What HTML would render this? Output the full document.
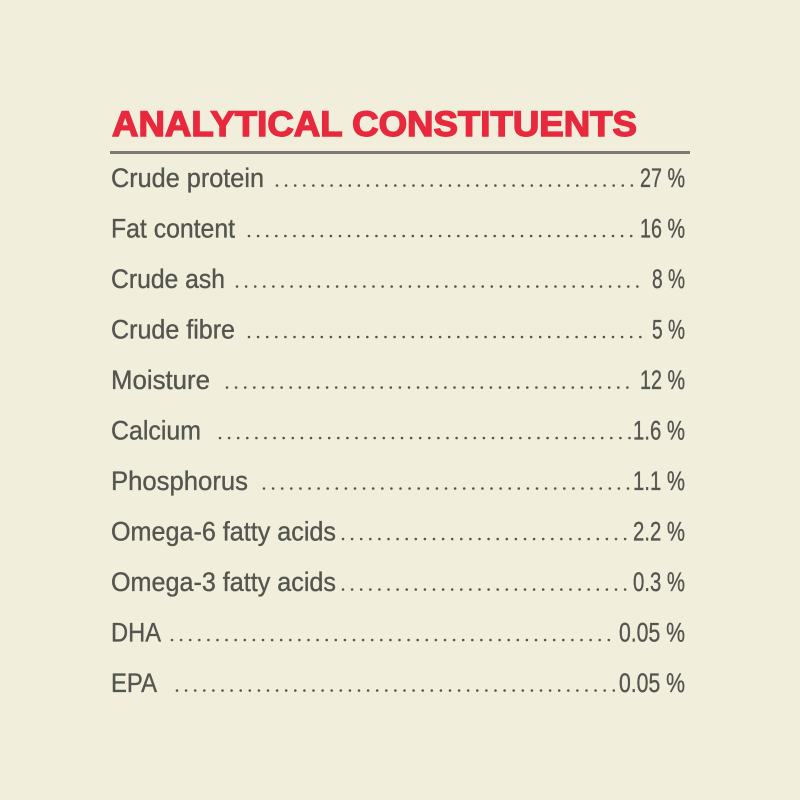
<!DOCTYPE html>
<html><head><meta charset="utf-8"><style>
html,body{margin:0;padding:0;background:#f1efdb;}
svg{display:block}
text{font-family:"Liberation Sans",sans-serif;}
</style></head><body>
<svg width="800" height="800" viewBox="0 0 800 800" xmlns="http://www.w3.org/2000/svg">
<rect width="800" height="800" fill="#f1efdb"/>
<text x="112" y="136" font-size="35" font-weight="bold" fill="#e8283d" stroke="#e8283d" stroke-width="1.4" textLength="525" lengthAdjust="spacingAndGlyphs">ANALYTICAL CONSTITUENTS</text>
<rect x="110" y="151" width="580" height="3" fill="#7b7b72"/>
<g fill="#555550" font-size="26.5" stroke="#555550" stroke-width="0.35">
<text x="111" y="187" textLength="153" lengthAdjust="spacingAndGlyphs">Crude protein</text>
<text x="640" y="187" textLength="45" lengthAdjust="spacingAndGlyphs">27 %</text>
<line x1="277" y1="185.5" x2="632" y2="185.5" stroke-width="2.6" stroke-linecap="round" stroke-dasharray="0 9.1"/>

<text x="111" y="237.5" textLength="124" lengthAdjust="spacingAndGlyphs">Fat content</text>
<text x="640" y="237.5" textLength="45" lengthAdjust="spacingAndGlyphs">16 %</text>
<line x1="249" y1="236" x2="632" y2="236" stroke-width="2.6" stroke-linecap="round" stroke-dasharray="0 9.1"/>

<text x="111" y="288" textLength="114" lengthAdjust="spacingAndGlyphs">Crude ash</text>
<text x="652" y="288" textLength="33" lengthAdjust="spacingAndGlyphs">8 %</text>
<line x1="237" y1="286.5" x2="645" y2="286.5" stroke-width="2.6" stroke-linecap="round" stroke-dasharray="0 9.1"/>

<text x="111" y="338.5" textLength="124" lengthAdjust="spacingAndGlyphs">Crude fibre</text>
<text x="652" y="338.5" textLength="33" lengthAdjust="spacingAndGlyphs">5 %</text>
<line x1="249" y1="337" x2="645" y2="337" stroke-width="2.6" stroke-linecap="round" stroke-dasharray="0 9.1"/>

<text x="111" y="389" textLength="99" lengthAdjust="spacingAndGlyphs">Moisture</text>
<text x="640" y="389" textLength="45" lengthAdjust="spacingAndGlyphs">12 %</text>
<line x1="227" y1="387.5" x2="632" y2="387.5" stroke-width="2.6" stroke-linecap="round" stroke-dasharray="0 9.1"/>

<text x="111" y="439.5" textLength="90" lengthAdjust="spacingAndGlyphs">Calcium</text>
<text x="633" y="439.5" textLength="52" lengthAdjust="spacingAndGlyphs">1.6 %</text>
<line x1="220" y1="438" x2="630" y2="438" stroke-width="2.6" stroke-linecap="round" stroke-dasharray="0 9.1"/>

<text x="111" y="490" textLength="137" lengthAdjust="spacingAndGlyphs">Phosphorus</text>
<text x="633" y="490" textLength="52" lengthAdjust="spacingAndGlyphs">1.1 %</text>
<line x1="264" y1="488.5" x2="630" y2="488.5" stroke-width="2.6" stroke-linecap="round" stroke-dasharray="0 9.1"/>

<text x="111" y="540.5" textLength="225" lengthAdjust="spacingAndGlyphs">Omega-6 fatty acids</text>
<text x="633" y="540.5" textLength="52" lengthAdjust="spacingAndGlyphs">2.2 %</text>
<line x1="343" y1="539" x2="630" y2="539" stroke-width="2.6" stroke-linecap="round" stroke-dasharray="0 9.1"/>

<text x="111" y="591" textLength="225" lengthAdjust="spacingAndGlyphs">Omega-3 fatty acids</text>
<text x="633" y="591" textLength="52" lengthAdjust="spacingAndGlyphs">0.3 %</text>
<line x1="343" y1="589.5" x2="630" y2="589.5" stroke-width="2.6" stroke-linecap="round" stroke-dasharray="0 9.1"/>

<text x="111" y="641.5" textLength="50" lengthAdjust="spacingAndGlyphs">DHA</text>
<text x="619" y="641.5" textLength="66" lengthAdjust="spacingAndGlyphs">0.05 %</text>
<line x1="172" y1="640" x2="616" y2="640" stroke-width="2.6" stroke-linecap="round" stroke-dasharray="0 9.1"/>

<text x="111" y="692" textLength="46" lengthAdjust="spacingAndGlyphs">EPA</text>
<text x="619" y="692" textLength="66" lengthAdjust="spacingAndGlyphs">0.05 %</text>
<line x1="177" y1="690.5" x2="616" y2="690.5" stroke-width="2.6" stroke-linecap="round" stroke-dasharray="0 9.1"/>
</g>
</svg>
</body></html>
